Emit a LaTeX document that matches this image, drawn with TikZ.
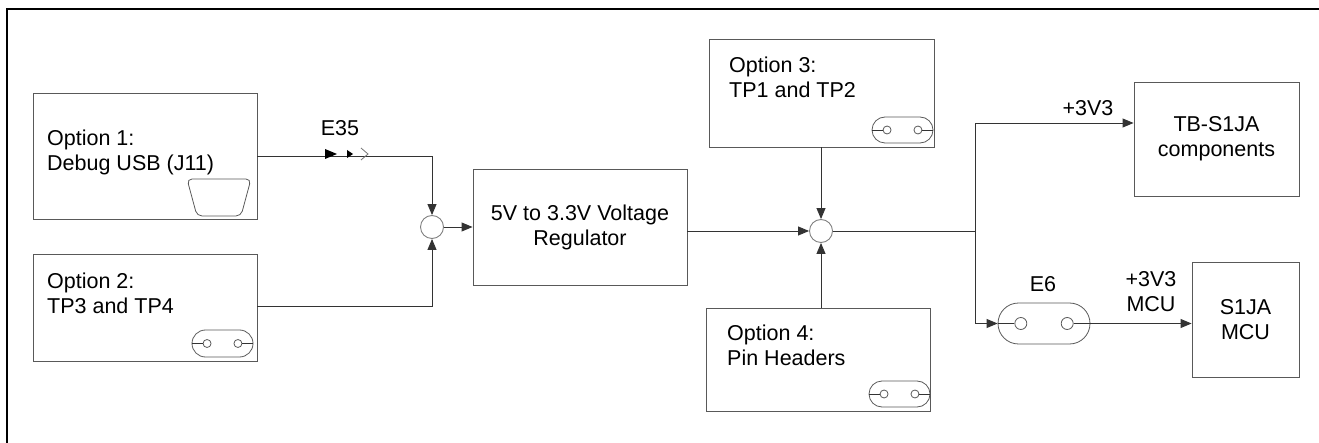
\documentclass[tikz,border=0pt]{standalone}
\usepackage{fontspec}
\setmainfont{Liberation Sans}
\usepackage{tikz}
\usetikzlibrary{arrows.meta,calc,shapes.misc}

\tikzset{
  blk/.style={draw=black!65,line width=0.9pt,inner sep=0pt},
  txt/.style={inner sep=0pt,align=left,anchor=west},
  junc/.style={draw=black!50,line width=0.9pt,circle,minimum size=23pt,inner sep=0pt},
  pill/.style={draw=black!65,rounded rectangle,line width=0.8pt,inner sep=0pt},
  pin/.style={draw=black!65,circle,inner sep=0pt,line width=0.8pt},
  wire/.style={line width=0.9pt,black!80},
  arr/.style={wire,-{Triangle[length=11pt,width=9pt]}},
}

% jumper: name, position, width, height, pin size
\newcommand{\jumper}[5]{%
  \node[pill,minimum width=#3,minimum height=#4] (#1) at (#2) {};
  \node[pin,minimum size=#5] (#1a) at ($(#1.west)!0.25!(#1.east)$) {};
  \node[pin,minimum size=#5] (#1b) at ($(#1.west)!0.75!(#1.east)$) {};
  \draw[wire,line width=0.8pt] (#1.west) -- (#1a);
  \draw[wire,line width=0.8pt] (#1b) -- (#1.east);
}

\begin{document}
\begin{tikzpicture}[x=1pt,y=-1pt,font=\fontsize{21.5}{25}\selectfont]
  \useasboundingbox (0,0) rectangle (1319,443);
  % frame
  \draw[line width=2.5pt] (7,445) -- (7,9) -- (1321,9);

  % blocks
  \node[blk,minimum width=224,minimum height=126] (opt1) at (145,156) {};
  \node[blk,minimum width=224,minimum height=107] (opt2) at (145,307.5) {};
  \node[blk,minimum width=214,minimum height=116,align=center] (reg) at (580,227) {5V to 3.3V Voltage\\Regulator};
  \node[blk,minimum width=225,minimum height=108] (opt3) at (821.5,93) {};
  \node[blk,minimum width=224,minimum height=103] (opt4) at (818,359.5) {};
  \node[blk,minimum width=165,minimum height=114,align=center] (tb) at (1216.5,139) {TB-S1JA\\components};
  \node[blk,minimum width=107,minimum height=115,align=center] (mcu) at (1245.5,319.5) {S1JA\\MCU};

  \node[txt] at (47,152) {Option 1:\\Debug USB (J11)};
  \node[txt] at (47,293) {Option 2:\\TP3 and TP4};
  \node[txt] at (729,77.5) {Option 3:\\TP1 and TP2};
  \node[txt] at (727,345.5) {Option 4:\\Pin Headers};

  % usb connector
  \draw[draw=black!65,line width=0.8pt,rounded corners=5pt] (187,179) -- (251,179) -- (241,216) -- (197,216) -- cycle;

  % jumpers
  \jumper{jp2}{222.5,343.5}{61}{27}{8}
  \jumper{jp3}{902.5,130}{61}{26}{8}
  \jumper{jp4}{899.5,394}{61}{26}{8}
  \jumper{e6}{1044,323.5}{92}{41}{12}

  % junctions
  \node[junc] (j1) at (432,227) {};
  \node[junc] (j2) at (821,231) {};
  \coordinate (split) at (975,231);

  % connections
  \draw[arr] (opt1) -| (j1);
  \draw[arr] (opt2.east |- 0,306) -| (j1);
  \draw[arr] (j1) -- (reg);
  \draw[arr] (reg.east |- j2) -- (j2);
  \draw[arr] (opt3.south -| j2) -- (j2);
  \draw[arr] (opt4.north -| j2) -- (j2);
  \draw[wire] (j2) -- (split);
  \draw[arr] (split) |- ([yshift=16pt]tb.west);
  \draw[arr] (split) |- (e6.west);
  \draw[arr] (e6.east) -- (mcu.west |- e6.east);

  % E35 markers
  \coordinate (e35) at (337,154);
  \begin{scope}[shift={(e35)}]
    \fill (-12,-5) -- (0,0) -- (-12,5) -- cycle;
    \fill (10,-4) -- (16,0) -- (10,4) -- cycle;
    \draw[black!55,line width=0.8pt] (24,-6) -- (31,0) -- (24,6);
  \end{scope}

  % labels
  \node at (340,128) {E35};
  \node at (1088,108) {+3V3};
  \node at (1043,284) {E6};
  \node[align=center] at (1151,291.5) {+3V3\\MCU};
\end{tikzpicture}
\end{document}
